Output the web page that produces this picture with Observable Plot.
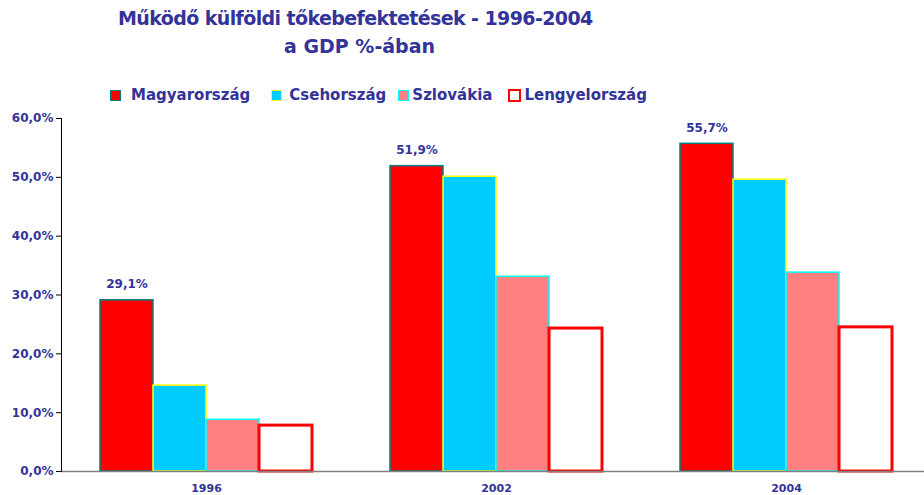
<!DOCTYPE html>
<html>
<head>
<meta charset="utf-8">
<script src="https://cdn.jsdelivr.net/npm/d3@7"></script>
<script src="https://cdn.jsdelivr.net/npm/@observablehq/plot@0.6"></script>
<style>
  html, body { margin: 0; padding: 0; background: #fff; }
  #wrap { position: relative; width: 924px; height: 495px; overflow: hidden; font-family: "DejaVu Sans", sans-serif; }
  .t { position: absolute; font-weight: bold; color: #333399; white-space: nowrap; font-size: 19px; letter-spacing: -0.6px; }
  #legend { position: absolute; top: 86px; left: 110px; display: flex; align-items: center; font-weight: bold; color: #333399; font-size: 15px; }
  .li { display: flex; align-items: center; }
  .sw { width: 9px; height: 9px; box-sizing: content-box; }
  #chart { position: absolute; top: 108px; left: 0; }
</style>
</head>
<body>
<div id="wrap">
  <div class="t" id="t1" style="left:118px; top:7px;">Működő külföldi tőkebefektetések - 1996-2004</div>
  <div class="t" id="t2" style="left:284px; top:35px; letter-spacing:0;">a GDP %-ában</div>
  <div id="legend"></div>
  <div id="chart"></div>
</div>
<script>
const years = ["1996", "2002", "2004"];
const countries = ["Magyarország", "Csehország", "Szlovákia", "Lengyelország"];
const hungary = [29.1, 51.9, 55.7];
const czech = [14.6, 50.1, 49.6];
const slovakia = [8.8, 33.1, 33.8];
const poland = [7.8, 24.3, 24.5];
const yTicks = [0, 10, 20, 30, 40, 50, 60];

const fills = ["#FF0000", "#00CCFF", "#FF8080", "#FFFFFF"];
const strokes = ["#008080", "#FFFF00", "#00FFFF", "#FF0000"];
const strokeWidths = [1.5, 1.5, 1.5, 3];

const series = [hungary, czech, slovakia, poland];
const data = [];
years.forEach((y, i) => countries.forEach((c, j) => data.push({year: y, country: c, value: series[j][i]})));

const fmt = v => v.toFixed(1).replace(".", ",") + "%";

// legend
const legend = document.getElementById("legend");
const gaps = [21, 12, 16, 0];
const swGap = [10, 7, 3, 3];
countries.forEach((c, j) => {
  const item = document.createElement("div");
  item.className = "li";
  item.style.marginRight = gaps[j] + "px";
  const sw = document.createElement("div");
  sw.className = "sw";
  sw.style.background = fills[j];
  sw.style.marginRight = swGap[j] + "px";
  sw.style.border = (j === 3 ? "2px" : "1.5px") + " solid " + strokes[j];
  item.appendChild(sw);
  const tx = document.createElement("span");
  tx.textContent = c;
  item.appendChild(tx);
  legend.appendChild(item);
});

const barMarks = countries.map((c, j) => Plot.barY(data.filter(d => d.country === c), {
  fx: "year", x: "country", y: "value",
  fill: fills[j], stroke: strokes[j], strokeWidth: strokeWidths[j], inset: 0
}));

const chart = Plot.plot({
  width: 924,
  height: 387,
  marginTop: 10,
  marginBottom: 24,
  marginLeft: 60,
  marginRight: -7,
  style: {fontFamily: "DejaVu Sans, sans-serif", background: "transparent", overflow: "hidden"},
  fx: {domain: years, padding: 0, label: null},
  x: {domain: countries, paddingInner: 0, paddingOuter: 0.72, axis: null},
  y: {domain: [0, 60], axis: null, label: null},
  marks: [
    ...barMarks,
    Plot.text(data.filter(d => d.country === countries[0]), {
      fx: "year", x: "country", y: "value", text: d => fmt(d.value),
      dy: -16, fill: "#333399", fontWeight: "bold", fontSize: 12
    }),
    Plot.axisY({ticks: yTicks, tickSize: 5, tickPadding: 3, tickFormat: fmt, label: null,
      fill: "#333399", fontWeight: "bold", fontSize: 12, stroke: "#000"}),
    Plot.axisFx({anchor: "bottom", tickSize: 0, tickPadding: 13, label: null,
      fill: "#333399", fontWeight: "bold", fontSize: 11}),
    Plot.frame({anchor: "bottom", stroke: "#808080", strokeWidth: 1.5, facet: "super"}),
    Plot.frame({anchor: "left", stroke: "#000", strokeWidth: 1, facet: "super"})
  ]
});
document.getElementById("chart").appendChild(chart);
</script>
</body>
</html>
